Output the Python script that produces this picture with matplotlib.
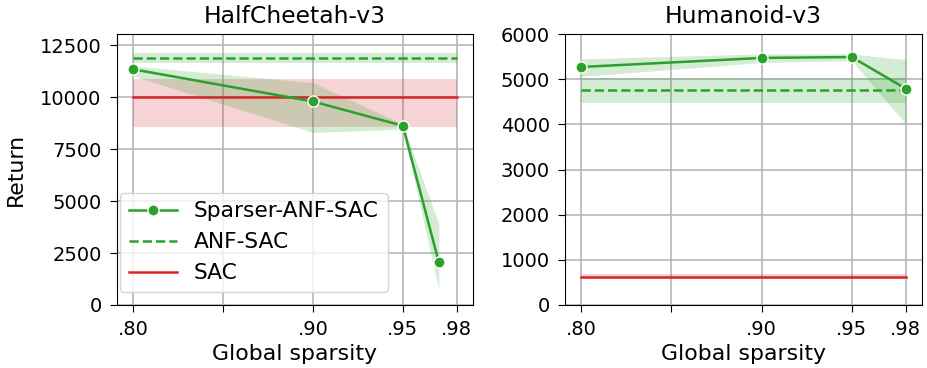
import matplotlib

matplotlib.use("Agg")

import matplotlib.pyplot as plt
import numpy as np

GREEN = "#2ca02c"
RED = "#d62728"

sparsity_ticks = [0.80, 0.85, 0.90, 0.95, 0.98]
tick_labels = [".80", "", ".90", ".95", ".98"]
baseline_x = [0.80, 0.98]

# HalfCheetah-v3
hc_sparsity = [0.80, 0.90, 0.95, 0.97]
hc_sparser = [11350, 9800, 8630, 2050]
hc_sparser_lo = [11030, 8310, 8470, 720]
hc_sparser_hi = [11510, 10710, 8700, 3900]
hc_anf = 11900
hc_anf_lo, hc_anf_hi = 11660, 12150
hc_sac = 10000
hc_sac_lo, hc_sac_hi = 8550, 10870

# Humanoid-v3
hu_sparsity = [0.80, 0.90, 0.95, 0.98]
hu_sparser = [5270, 5470, 5490, 4790]
hu_sparser_lo = [5060, 5370, 5410, 4010]
hu_sparser_hi = [5450, 5560, 5560, 5430]
hu_anf = 4750
hu_anf_lo, hu_anf_hi = 4470, 5030
hu_sac = 625
hu_sac_lo, hu_sac_hi = 565, 685

plt.rcParams.update({
    "font.size": 14,
    "xtick.labelsize": 14,
    "ytick.labelsize": 14,
    "axes.labelsize": 15.8,
    "axes.titlesize": 16.9,
    "legend.fontsize": 15.7,
    "xtick.major.size": 5,
    "ytick.major.size": 5,
    "xtick.major.pad": 5.5,
    "ytick.major.pad": 6,
})


def draw_panel(ax, x, y, lo, hi, anf, anf_band, sac, sac_band):
    ax.fill_between(baseline_x, [sac_band[0]] * 2, [sac_band[1]] * 2,
                    color=RED, alpha=0.2, lw=0)
    ax.plot(baseline_x, [sac] * 2, color=RED, lw=1.8, label="SAC")
    ax.fill_between(baseline_x, [anf_band[0]] * 2, [anf_band[1]] * 2,
                    color=GREEN, alpha=0.2, lw=0)
    ax.plot(baseline_x, [anf] * 2, color=GREEN, lw=1.8, ls="--", label="ANF-SAC")
    ax.fill_between(x, lo, hi, color=GREEN, alpha=0.2, lw=0)
    ax.plot(x, y, color=GREEN, lw=1.8, marker="o", ms=8, mec="white", mew=1,
            label="Sparser-ANF-SAC")
    ax.set_xticks(sparsity_ticks)
    ax.set_xticklabels(tick_labels)
    ax.set_xlim(0.791, 0.989)
    ax.set_xlabel("Global sparsity")
    ax.grid(True, color="#b0b0b0", lw=1.1)
    ax.set_axisbelow(True)


fig = plt.figure(figsize=(9.27, 3.68), dpi=100)
ax1 = fig.add_axes([117 / 927, 1 - 305 / 368, 356 / 927, 271 / 368])
ax2 = fig.add_axes([565 / 927, 1 - 305 / 368, 357 / 927, 271 / 368])

draw_panel(ax1, hc_sparsity, hc_sparser, hc_sparser_lo, hc_sparser_hi,
           hc_anf, (hc_anf_lo, hc_anf_hi), hc_sac, (hc_sac_lo, hc_sac_hi))
ax1.set_ylim(0, 13050)
ax1.set_yticks([0, 2500, 5000, 7500, 10000, 12500])
ax1.set_ylabel("Return", labelpad=10)
ax1.set_title("HalfCheetah-v3", pad=8)
handles, labels = ax1.get_legend_handles_labels()
ax1.legend(handles[::-1], labels[::-1], loc="lower left",
           bbox_to_anchor=(0.008, 0.048), borderaxespad=0, handlelength=2.2)

draw_panel(ax2, hu_sparsity, hu_sparser, hu_sparser_lo, hu_sparser_hi,
           hu_anf, (hu_anf_lo, hu_anf_hi), hu_sac, (hu_sac_lo, hu_sac_hi))
ax2.set_ylim(0, 6000)
ax2.set_yticks([0, 1000, 2000, 3000, 4000, 5000, 6000])
ax2.set_title("Humanoid-v3", pad=8)

fig.savefig("out.png", dpi=100, facecolor="white")
